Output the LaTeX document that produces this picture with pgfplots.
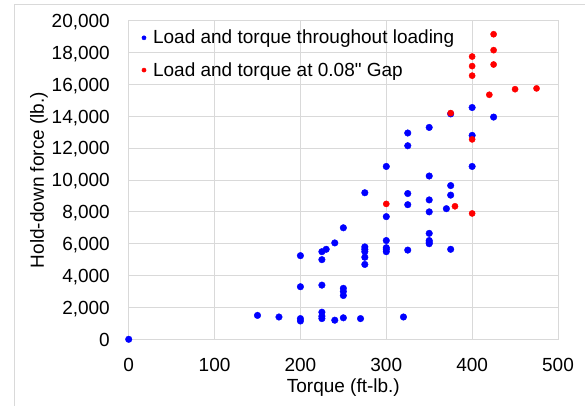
\documentclass[border=0pt]{standalone}
\usepackage{fontspec}
\setmainfont{Liberation Sans}
\usepackage{pgfplots}
\pgfplotsset{compat=1.18}
\definecolor{gridgray}{RGB}{217,217,217}
\definecolor{mblue}{RGB}{0,0,255}
\definecolor{mred}{RGB}{255,0,0}
\begin{document}
\begin{tikzpicture}[x=1pt,y=1pt]
\fill[white] (0,0) rectangle (585,406);
\draw[gridgray, line width=0.8pt] (14.3,-20) -- (14.3,401.7) -- (620,401.7);
\begin{axis}[
  at={(128.7pt,66.7pt)}, anchor=south west,
  scale only axis, width=429.3pt, height=318.6pt,
  xmin=0, xmax=500, ymin=0, ymax=20000,
  xtick={0,100,...,500}, ytick={0,2000,...,20000},
  grid=major, major grid style={gridgray, line width=0.8pt},
  axis line style={gridgray, line width=0.8pt},
  tick style={draw=none},
  /pgf/number format/assume math mode=true,
  /pgf/number format/1000 sep={,},
  scaled y ticks=false,
  tick label style={font=\fontsize{19}{22}\selectfont, inner sep=0pt},
  xticklabel style={anchor=base, yshift=-32.7pt},
  yticklabel style={anchor=base east, xshift=-18.7pt, yshift=-6.8pt},
  label style={font=\fontsize{19}{22}\selectfont},
  xlabel={Torque (ft-lb.)}, ylabel={Hold-down force (lb.)},
  xlabel style={at={(axis description cs:0.5,0)}, anchor=base, yshift=-52.7pt, inner sep=0pt},
  ylabel style={at={(axis description cs:0,0.5)}, anchor=center, yshift=89.7pt},
  legend style={draw=none, fill=none, at={(axis description cs:0,1)}, anchor=north west,
    xshift=10pt, yshift=-5.3pt, font=\fontsize{19}{22}\selectfont, row sep=13pt,
    nodes={inner sep=2pt},
    /tikz/every odd column/.append style={column sep=5pt}},
  legend cell align=left,
  legend image code/.code={\draw[mark repeat=1,#1,mark size=2.1pt] plot coordinates {(0pt,0pt)};},
  clip=false,
]
\addplot[only marks, mark=*, mark size=3.3pt, color=mblue] coordinates {
(0,0) (150,1500) (175,1400)
(200,5250) (200,3300) (200,1300) (200,1150)
(225,5500) (225,5000) (225,3400) (225,1700) (225,1450) (225,1300)
(230,5650) (240,6050) (240,1200)
(250,7000) (250,3200) (250,3000) (250,2750) (250,1350)
(270,1300)
(275,9200) (275,5800) (275,5650) (275,5500) (275,5150) (275,4700)
(300,10850) (300,7700) (300,6200) (300,5750) (300,5650) (300,5500)
(320,1400)
(325,12950) (325,12150) (325,9150) (325,8450) (325,5600)
(350,13300) (350,10250) (350,8750) (350,8000) (350,6650) (350,6200) (350,6100) (350,6000)
(370,8200)
(375,14150) (375,9650) (375,9050) (375,5650)
(400,14550) (400,12800) (400,10850)
(425,13950)
};
\addlegendentry{Load and torque throughout loading}
\addplot[only marks, mark=*, mark size=3.1pt, color=mred] coordinates {
(300,8500) (375,14200) (380,8350)
(400,17750) (400,17150) (400,16550) (400,12550) (400,7900)
(420,15350)
(425,19150) (425,18150) (425,17250)
(450,15700) (475,15750)
};
\addlegendentry{Load and torque at 0.08\textquotedbl{} Gap}
\end{axis}
\pgfresetboundingbox
\path[use as bounding box] (0,0) rectangle (585,406);
\end{tikzpicture}
\end{document}
